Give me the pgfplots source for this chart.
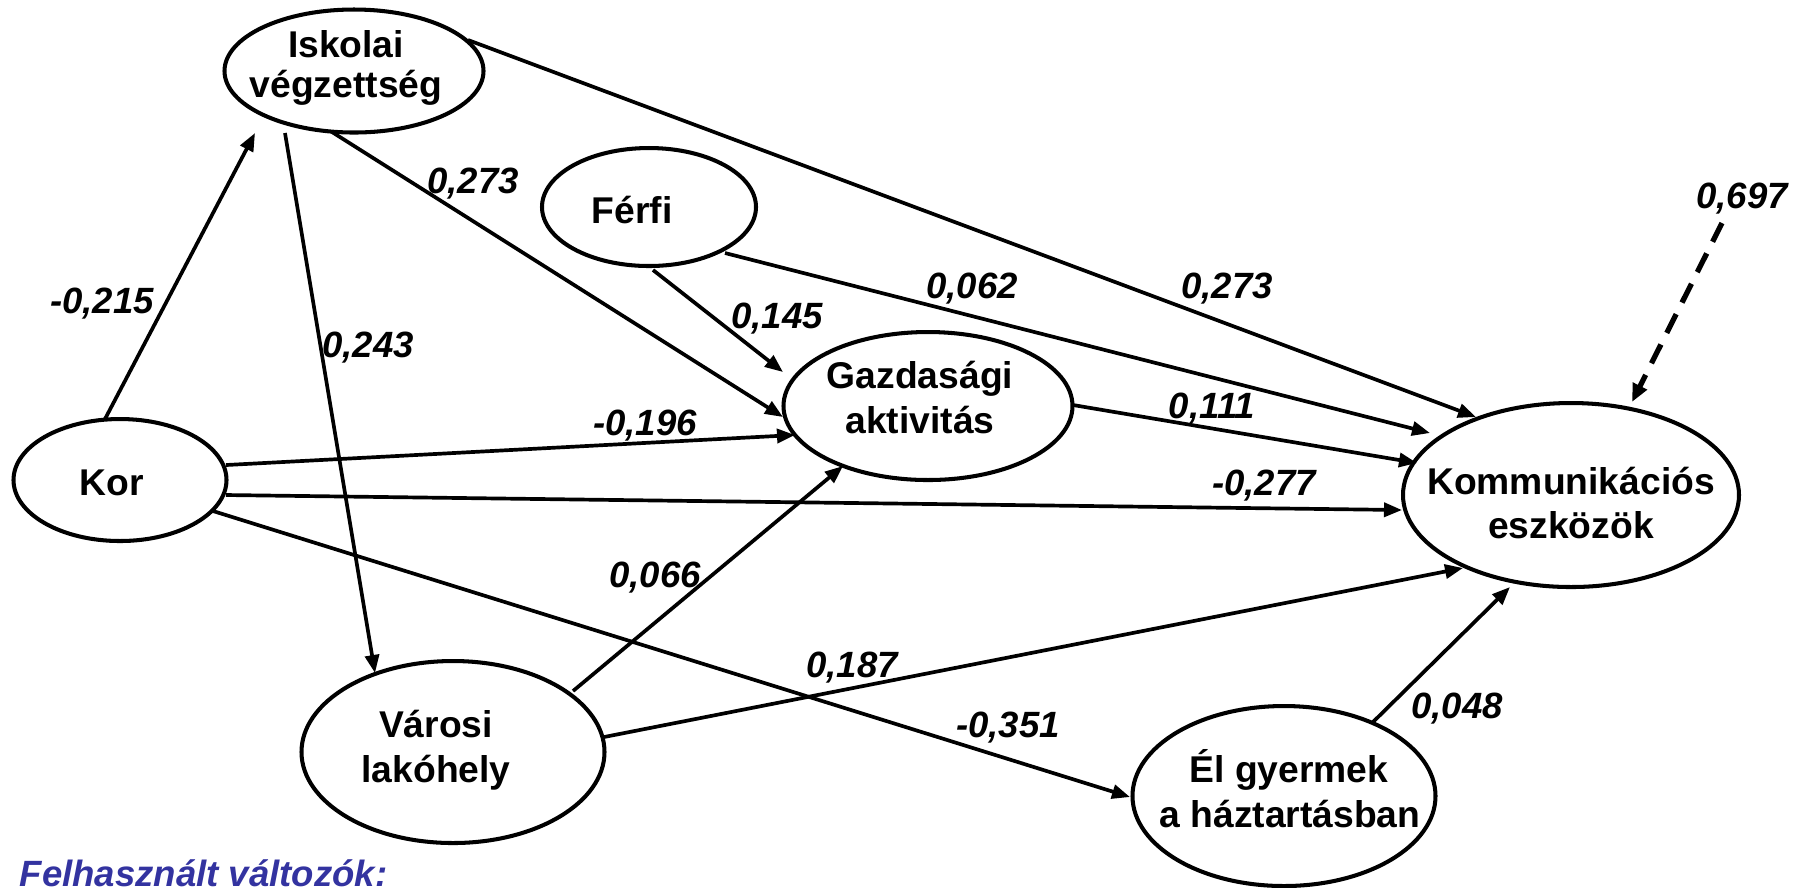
\documentclass[border=0pt]{standalone}
\usepackage{pgfplots}
\pgfplotsset{compat=1.18}
\usepackage{fontspec}
\setmainfont{Liberation Sans}
\usetikzlibrary{shapes.geometric,arrows.meta}
\definecolor{capblue}{RGB}{51,51,160}
\begin{document}
\begin{tikzpicture}[
  arr/.style={black, line width=1.05pt, no marks, -{Triangle[length=1.8mm,width=1.4mm]}},
  lab/.style={anchor=base, inner sep=0pt, font=\fontsize{10.4}{12}\selectfont\bfseries\itshape},
  var/.style={draw, ellipse, line width=1.15pt, inner sep=0pt},
  vt/.style={anchor=base, inner sep=0pt, font=\fontsize{10.6}{12}\selectfont\bfseries}]
\begin{axis}[name=ax, hide axis, scale only axis, width=17.98cm, height=8.87cm,
  xmin=0, xmax=1798, ymin=0, ymax=887, y dir=reverse, clip=false]
% variables (ellipses)
\node[var, minimum width=2.59cm, minimum height=1.23cm] at (axis cs:354,71) {};
\node[var, minimum width=2.14cm, minimum height=1.18cm] at (axis cs:649,207) {};
\node[var, minimum width=2.13cm, minimum height=1.22cm] at (axis cs:120,480) {};
\node[var, minimum width=2.89cm, minimum height=1.48cm] at (axis cs:928,406) {};
\node[var, minimum width=3.36cm, minimum height=1.84cm] at (axis cs:1571,495) {};
\node[var, minimum width=3.03cm, minimum height=1.82cm] at (axis cs:453,752) {};
\node[var, minimum width=3.03cm, minimum height=1.80cm] at (axis cs:1284,796) {};
% paths
\addplot[arr] coordinates {(105,419) (255,133)};    % Kor -> Iskolai
\addplot[arr] coordinates {(285,133) (375,673)};    % Iskolai -> Varosi
\addplot[arr] coordinates {(332,132) (783,417)};    % Iskolai -> Gazd
\addplot[arr] coordinates {(468,40) (1476,417)};    % Iskolai -> Komm
\addplot[arr] coordinates {(653,270) (783,372)};    % Ferfi -> Gazd
\addplot[arr] coordinates {(725,253) (1430,433)};   % Ferfi -> Komm
\addplot[arr] coordinates {(226,465) (795,435)};    % Kor -> Gazd
\addplot[arr] coordinates {(1073,405) (1417,463)};  % Gazd -> Komm
\addplot[arr] coordinates {(226,495) (1402,510)};   % Kor -> Komm
\addplot[arr] coordinates {(213,511) (1130,797)};   % Kor -> El
\addplot[arr] coordinates {(573,691) (843,466)};    % Varosi -> Gazd
\addplot[arr] coordinates {(604,737) (1463,568)};   % Varosi -> Komm
\addplot[arr] coordinates {(1373,722) (1510,587)};  % El -> Komm
\addplot[arr, line width=1.5pt, dash pattern=on 2.1mm off 1.3mm, -{Triangle[length=1.8mm,width=1.5mm]}] coordinates {(1722,223) (1632,402)};
% variable names
\node[vt] at (axis cs:346,57) {Iskolai};
\node[vt] at (axis cs:346,97) {végzettség};
\node[vt] at (axis cs:632,223) {Férfi};
\node[vt] at (axis cs:112,495) {Kor};
\node[vt] at (axis cs:920,388) {Gazdasági};
\node[vt] at (axis cs:920,433) {aktivitás};
\node[vt] at (axis cs:1571,494) {Kommunikációs};
\node[vt] at (axis cs:1571,538) {eszközök};
\node[vt] at (axis cs:436,737) {Városi};
\node[vt] at (axis cs:436,782) {lakóhely};
\node[vt] at (axis cs:1289,782) {Él gyermek};
\node[vt] at (axis cs:1290,827) {a háztartásban};
% coefficients
\node[lab] at (axis cs:102,313) {-0,215};
\node[lab] at (axis cs:368,357) {0,243};
\node[lab] at (axis cs:473,193) {0,273};
\node[lab] at (axis cs:1227,298) {0,273};
\node[lab] at (axis cs:777,328) {0,145};
\node[lab] at (axis cs:972,298) {0,062};
\node[lab] at (axis cs:645,435) {-0,196};
\node[lab] at (axis cs:1212,418) {0,111};
\node[lab] at (axis cs:1264,495) {-0,277};
\node[lab] at (axis cs:655,587) {0,066};
\node[lab] at (axis cs:852,677) {0,187};
\node[lab] at (axis cs:1008,737) {-0,351};
\node[lab] at (axis cs:1457,718) {0,048};
\node[lab] at (axis cs:1742,208) {0,697};
\node[anchor=base west, inner sep=0pt, text=capblue, font=\fontsize{10.4}{12}\selectfont\bfseries\itshape] at (axis cs:19,886) {Felhasznált változók:};
\end{axis}
\pgfresetboundingbox
\path (ax.south west) rectangle (ax.north east);
\end{tikzpicture}
\end{document}
